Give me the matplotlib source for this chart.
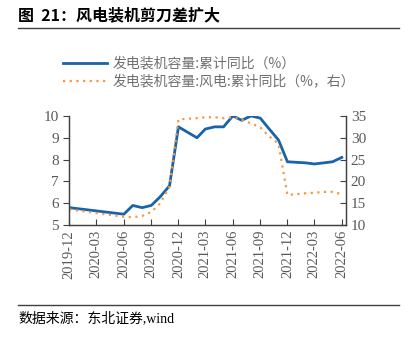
import pandas as pd
import matplotlib.pyplot as plt
import matplotlib.dates as mdates

plt.rcParams['font.family'] = ['Liberation Serif', 'Noto Sans CJK SC', 'DejaVu Sans']

# 数据
months = ["2019-12", "2020-06", "2020-07", "2020-08", "2020-09", "2020-10", "2020-11",
          "2020-12", "2021-02", "2021-03", "2021-04", "2021-05", "2021-06", "2021-07",
          "2021-08", "2021-09", "2021-10", "2021-11", "2021-12", "2022-02", "2022-03",
          "2022-04", "2022-05", "2022-06"]
total_yoy = [5.8, 5.5, 5.9, 5.8, 5.9, 6.3, 6.8,
             9.5, 9.0, 9.4, 9.5, 9.5, 10.0, 9.8,
             10.0, 9.9, 9.4, 8.9, 7.9, 7.85, 7.8,
             7.85, 7.9, 8.1]
wind_yoy = [13.6, 11.9, 11.8, 12.1, 13.0, 15.0, 18.8,
            34.2, 34.5, 34.7, 34.7, 34.5, 34.7, 34.1,
            33.3, 32.4, 30.3, 28.7, 16.9, 17.3, 17.4,
            17.6, 17.6, 17.1]
tick_months = ["2019-12", "2020-03", "2020-06", "2020-09", "2020-12", "2021-03",
               "2021-06", "2021-09", "2021-12", "2022-03", "2022-06"]

dates = pd.to_datetime(months)
ticks = pd.to_datetime(tick_months)

fig = plt.figure(figsize=(4.07, 3.38), dpi=100)
ax = fig.add_axes([0.170, 0.334, 0.680, 0.323])
ax2 = ax.twinx()

grey = '#595959'
l1, = ax.plot(dates, total_yoy, color='#1764ab', lw=2.0, label='发电装机容量:累计同比（%）', zorder=3)
l2, = ax2.plot(dates, wind_yoy, color='#f79646', lw=1.6, ls=(0, (1, 2)),
               label='发电装机容量:风电:累计同比（%，右）')

ax.set_ylim(5, 10)
ax2.set_ylim(10, 35)
ax.set_yticks(range(5, 11))
ax2.set_yticks(range(10, 36, 5))
ax.set_xlim(pd.Timestamp("2019-12-01"), pd.Timestamp("2022-06-15"))
ax.set_xticks(ticks)
ax.xaxis.set_major_formatter(mdates.DateFormatter('%Y-%m'))

for a in (ax, ax2):
    a.spines['top'].set_visible(False)
    for s in a.spines.values():
        s.set_color('#404040')
        s.set_linewidth(0.9)
ax.tick_params(axis='x', direction='in', length=4, rotation=90, labelsize=10.5,
               labelcolor=grey, color='#404040')
ax.tick_params(axis='y', direction='out', length=4, labelsize=11, labelcolor=grey,
               color='#404040')
ax2.tick_params(axis='y', direction='in', length=4, labelsize=11, labelcolor=grey,
                color='#404040')

fig.legend(handles=[l1, l2], loc='upper left', bbox_to_anchor=(0.123, 0.87),
           frameon=False, prop={'family': ['Noto Sans CJK SC', 'DejaVu Sans'], 'size': 10},
           labelcolor='#707070', handlelength=3.2, handletextpad=0.4, labelspacing=0.3)

fig.text(0.045, 0.955, '图  21：风电装机剪刀差扩大', fontsize=11.5, fontweight='bold',
         family=['Noto Sans CJK SC'], va='center', ha='left')
fig.add_artist(plt.Line2D([0.045, 0.98], [0.918, 0.918], color='#404040', lw=1.0))
fig.add_artist(plt.Line2D([0.045, 0.98], [0.098, 0.098], color='#404040', lw=1.0))
fig.text(0.045, 0.057, '数据来源：东北证券,wind', fontsize=10,
         family=['Liberation Serif', 'Noto Sans CJK SC'], va='center', ha='left')

fig.savefig('out.png', dpi=100)
